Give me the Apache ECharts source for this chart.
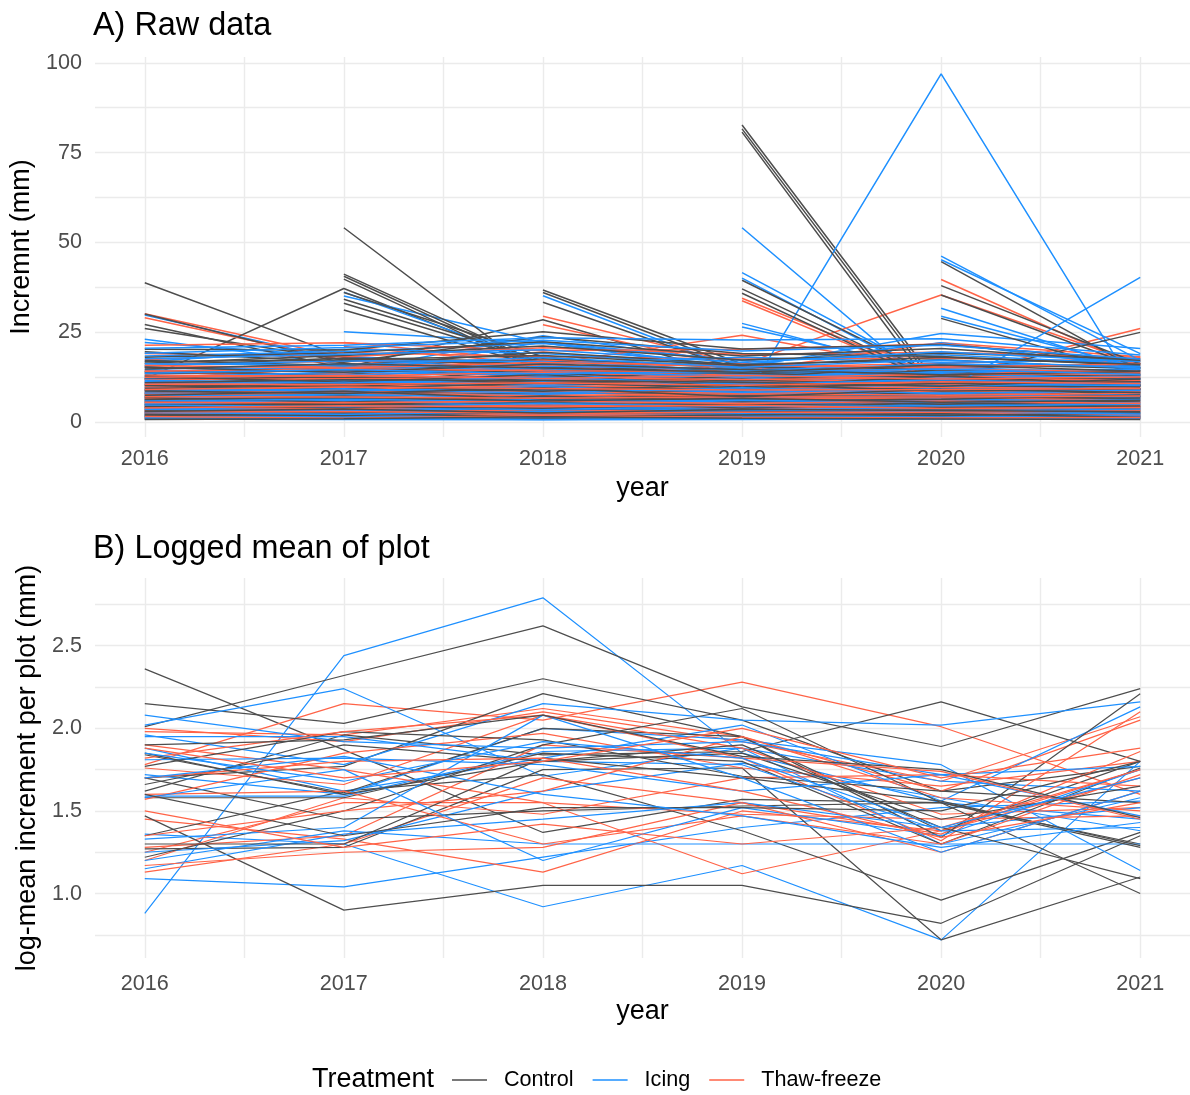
<!DOCTYPE html>
<html>
<head>
<meta charset="utf-8">
<script src="https://cdn.jsdelivr.net/npm/echarts@6/dist/echarts.min.js"></script>
<style>
  html, body { margin: 0; padding: 0; background: #ffffff; }
  #chart { width: 1190px; height: 1095px; }
</style>
</head>
<body>
<div id="chart"></div>
<script>
// Survey years
const years = [2016, 2017, 2018, 2019, 2020, 2021];
const treatments = ['Control', 'Icing', 'Thaw-freeze'];

// Raw yearly increment per tree (mm), one row per tree, columns = years.
// null = tree not measured that year.
const rawControl = [
  [38.8, 18.2, 14.1, 11.3, 9.2, 8.4],
  [12.0, 37.2, 15.3, 10.2, 8.1, 7.3],
  [30.1, 16.4, 12.2, 13.1, 10.4, 9.1],
  [27.2, 15.1, 28.5, 12.4, 10.2, 11.3],
  [26.1, 17.3, 16.2, 13.3, 11.1, 10.2],
  [null, 54.1, 12.3, 10.1, 9.2, 8.3],
  [null, 41.2, 16.1, 12.2, 10.3, 9.2],
  [null, 40.6, 15.2, 14.1, 12.2, 10.1],
  [null, 39.8, 14.3, 11.2, 12.1, 10.4],
  [null, 36.1, 18.2, 13.3, 11.2, 9.3],
  [null, 34.2, 17.1, 15.2, 12.3, 11.1],
  [null, 33.1, 16.3, 12.1, 11.4, 10.2],
  [null, 31.2, 15.1, 14.3, 13.2, 11.3],
  [null, null, 36.8, 16.2, 12.1, 10.4],
  [null, null, 36.1, 15.1, 11.3, 10.1],
  [null, null, 33.4, 14.2, 13.1, 12.2],
  [null, null, null, 82.7, 9.4, 8.2],
  [null, null, null, 81.6, 8.1, 7.1],
  [null, null, null, 80.7, 6.2, 9.3],
  [null, null, null, 39.5, 12.2, 10.1],
  [null, null, null, 37.1, 11.1, 9.2],
  [null, null, null, 35.9, 10.2, 12.1],
  [null, null, null, null, 44.7, 14.3],
  [null, null, null, null, 38.0, 16.2],
  [null, null, null, null, 35.4, 15.1],
  [null, null, null, null, 28.9, 13.2],
  [4.1, 7.1, 8.2, 9.2, 12.1, 25.0],
  [17.2, 15.8, 19.5, 16.1, 17.4, 14.9],
  [15.6, 17.9, 16.8, 14.2, 15.1, 16.3],
  [14.1, 13.2, 17.7, 15.5, 13.8, 12.6],
  [13.4, 14.6, 12.9, 12.1, 16.2, 15.0],
  [12.2, 11.3, 14.4, 13.6, 12.5, 11.8],
  [11.5, 12.8, 11.2, 10.4, 11.0, 13.1],
  [10.6, 9.8, 12.3, 11.7, 10.3, 9.9],
  [9.7, 10.9, 10.1, 9.2, 9.6, 10.8],
  [9.1, 8.4, 9.7, 8.8, 11.4, 8.6],
  [8.3, 9.2, 8.9, 7.6, 8.1, 9.4],
  [7.8, 7.1, 8.2, 8.3, 7.4, 7.2],
  [7.2, 7.9, 7.5, 6.9, 6.8, 8.1],
  [6.6, 6.3, 6.9, 6.2, 7.7, 6.4],
  [6.1, 5.8, 6.4, 5.6, 5.9, 6.9],
  [5.5, 6.2, 5.7, 5.1, 5.3, 5.6],
  [5.0, 4.9, 5.3, 4.7, 6.1, 4.8],
  [4.6, 5.4, 4.6, 4.3, 4.4, 5.2],
  [4.1, 3.9, 4.2, 3.8, 4.8, 4.1],
  [3.7, 4.3, 3.7, 3.4, 3.6, 3.5],
  [3.2, 3.1, 3.3, 2.9, 3.9, 3.2],
  [2.8, 3.5, 2.8, 2.6, 2.8, 2.7],
  [2.4, 2.3, 2.5, 2.2, 3.1, 2.3],
  [2.0, 2.7, 2.1, 1.9, 2.2, 1.9],
  [1.6, 1.7, 1.8, 1.5, 1.7, 1.6],
  [1.3, 1.4, 1.2, 1.2, 1.4, 1.2],
  [1.0, 1.1, 0.9, 0.9, 1.1, 1.0],
  [16.4, 18.6, 21.2, 17.3, 19.2, 17.6],
  [18.1, 19.3, 22.4, 18.4, 20.5, 16.9],
  [19.6, 16.7, 23.8, 19.1, 18.3, 15.8],
  [20.3, 20.1, 25.2, 20.4, 21.6, 17.1],
  [3.4, 2.9, 4.1, 3.2, 2.7, 3.8],
  [5.8, 6.6, 5.2, 6.4, 5.0, 5.9],
  [8.9, 7.6, 9.3, 8.1, 9.9, 7.7],
  [11.9, 12.6, 10.7, 12.9, 11.7, 12.4],
  [13.9, 15.1, 13.8, 11.4, 14.6, 13.6],
  [2.2, 1.9, 2.9, 2.4, 1.9, 2.6],
  [4.3, 4.7, 3.9, 5.2, 4.2, 4.5],
  [6.9, 5.6, 7.3, 5.9, 6.4, 7.6],
  [9.4, 10.1, 8.6, 10.6, 8.7, 9.1],
  [12.8, 11.1, 13.3, 9.8, 12.9, 10.6],
  [1.8, 2.4, 1.6, 2.0, 2.4, 1.4],
  [4.9, 4.1, 5.6, 4.0, 5.4, 4.3],
  [7.5, 8.6, 6.5, 7.4, 7.1, 6.7],
  [10.2, 9.4, 10.9, 9.6, 10.8, 11.3],
  [15.3, 13.9, 16.2, 14.7, 13.2, 14.1],
  [0.8, 1.0, 1.5, 1.1, 0.9, 0.8],
  [3.0, 3.7, 2.6, 3.6, 3.3, 2.9],
  [6.3, 7.0, 5.9, 6.7, 5.6, 6.1],
  [8.7, 8.0, 9.5, 7.1, 9.2, 8.3],
  [11.0, 11.8, 11.6, 11.1, 10.0, 12.0],
  [16.8, 17.4, 18.6, 15.8, 18.1, 16.1],
  [14.8, 16.3, 15.1, 13.9, 15.9, 14.2]
];

const rawIcing = [
  [29.8, 17.2, 15.1, 13.2, 11.1, 10.3],
  [23.1, 16.1, 14.2, 12.1, 13.2, 11.1],
  [22.2, 18.3, 16.1, 14.2, 12.3, 13.1],
  [null, 36.2, 16.3, 12.1, 11.2, 10.1],
  [null, 35.1, 22.2, 14.3, 12.1, 11.3],
  [null, 25.2, 22.1, 15.2, 13.1, 12.2],
  [null, null, 35.2, 14.1, 14.2, 13.1],
  [11.1, 14.2, 24.1, 16.2, 12.1, 11.2],
  [10.2, 13.1, 22.3, 17.1, 13.2, 12.1],
  [null, null, null, 54.1, 7.2, 9.1],
  [null, null, null, 41.6, 12.1, 10.2],
  [null, null, null, 40.1, 11.2, 9.3],
  [null, null, null, 27.5, 13.1, 11.2],
  [null, null, null, 26.5, 14.2, 12.1],
  [5.1, 7.2, 9.3, 5.3, 96.9, 7.0],
  [null, null, null, null, 46.2, 17.2],
  [null, null, null, null, 45.2, 19.1],
  [null, null, null, null, 31.7, 14.2],
  [null, null, null, null, 29.5, 15.1],
  [8.1, 10.2, 13.1, 15.2, 24.7, 20.5],
  [6.3, 9.2, 11.3, 14.1, 8.2, 40.3],
  [18.4, 19.7, 21.9, 17.2, 18.8, 16.2],
  [16.9, 20.3, 19.1, 15.9, 22.1, 15.4],
  [15.2, 14.4, 16.3, 18.1, 16.7, 17.3],
  [14.7, 16.2, 14.9, 13.4, 14.2, 14.6],
  [13.1, 12.7, 15.6, 14.8, 13.5, 12.1],
  [12.6, 13.9, 13.1, 11.9, 15.3, 13.7],
  [11.3, 10.6, 12.2, 12.7, 11.1, 10.9],
  [10.4, 11.8, 10.8, 10.1, 12.4, 11.6],
  [9.8, 9.1, 11.3, 9.4, 9.8, 9.3],
  [8.9, 9.9, 9.2, 8.6, 10.6, 10.2],
  [8.1, 8.2, 8.7, 7.9, 8.5, 8.4],
  [7.4, 7.6, 7.8, 8.9, 7.2, 7.3],
  [6.8, 6.7, 7.1, 6.5, 7.9, 6.7],
  [6.3, 7.2, 6.2, 5.9, 6.4, 6.1],
  [5.7, 5.4, 5.9, 5.3, 5.6, 5.8],
  [5.2, 5.9, 4.9, 4.6, 5.1, 4.9],
  [4.4, 4.6, 4.4, 4.1, 4.7, 4.3],
  [3.9, 3.7, 3.9, 3.6, 3.8, 3.9],
  [3.4, 3.2, 3.5, 3.1, 3.3, 3.4],
  [2.9, 2.8, 2.9, 2.7, 2.6, 2.8],
  [2.5, 2.4, 2.3, 2.4, 2.2, 2.5],
  [2.1, 1.9, 1.9, 1.8, 1.8, 2.0],
  [1.7, 1.5, 1.4, 1.4, 1.5, 1.6],
  [1.4, 1.2, 0.8, 1.1, 1.2, 1.3],
  [0.9, 0.8, 0.7, 0.8, 0.9, 1.1],
  [20.6, 21.4, 23.5, 22.9, 23.2, 18.7],
  [1.9, 2.3, 1.6, 2.1, 2.0, 1.7],
  [3.6, 3.1, 4.0, 3.4, 3.0, 3.7],
  [5.5, 6.1, 5.4, 5.8, 6.0, 5.3],
  [7.0, 7.8, 6.6, 7.2, 6.9, 7.7],
  [9.2, 8.6, 9.9, 8.3, 9.3, 8.8],
  [10.9, 11.4, 10.3, 11.2, 10.1, 11.0],
  [12.4, 13.3, 12.0, 13.1, 12.2, 12.8],
  [14.1, 15.4, 14.3, 12.6, 13.9, 14.9],
  [15.8, 17.1, 16.9, 14.4, 16.2, 15.6],
  [17.7, 18.9, 20.2, 16.6, 19.6, 16.8],
  [2.7, 2.2, 3.0, 2.5, 2.9, 2.3],
  [4.8, 4.3, 5.2, 4.4, 4.6, 5.0],
  [6.0, 6.4, 5.7, 6.2, 5.5, 6.3],
  [8.5, 9.3, 8.1, 9.6, 8.0, 9.0],
  [11.7, 10.9, 12.6, 10.6, 11.8, 10.5],
  [13.6, 14.7, 13.5, 14.1, 14.8, 13.3],
  [16.3, 15.9, 18.0, 15.3, 17.3, 15.1],
  [19.2, 20.8, 22.8, 19.8, 21.4, 17.6]
];

const rawThaw = [
  [30.2, 18.1, 15.2, 13.1, 11.2, 10.1],
  [29.1, 17.2, 14.1, 12.2, 10.1, 11.2],
  [null, 22.2, 17.1, 14.2, 12.1, 10.3],
  [null, 21.1, 16.2, 13.1, 11.3, 12.1],
  [null, null, 29.5, 16.1, 13.2, 11.1],
  [null, null, 27.1, 15.2, 12.1, 10.2],
  [12.1, 15.2, 16.1, 24.2, 14.1, 13.2],
  [null, null, null, 34.5, 12.2, 11.1],
  [null, null, null, 33.8, 11.1, 10.2],
  [null, null, null, null, 39.7, 15.1],
  [8.1, 11.2, 12.1, 16.1, 35.4, 16.2],
  [7.2, 10.1, 11.2, 13.1, 12.2, 26.1],
  [10.2, 12.3, 13.1, 14.2, 22.1, 18.2],
  [19.1, 18.2, 20.7, 18.9, 19.5, 18.1],
  [17.4, 19.4, 18.3, 17.6, 17.9, 16.6],
  [16.2, 16.9, 17.4, 15.2, 16.4, 17.8],
  [15.3, 15.6, 15.8, 14.6, 15.6, 15.7],
  [14.5, 14.1, 14.7, 16.4, 14.3, 14.4],
  [13.7, 13.5, 13.6, 13.3, 13.4, 13.5],
  [12.9, 12.4, 12.8, 12.4, 12.7, 12.9],
  [12.1, 11.6, 11.9, 11.5, 11.6, 12.2],
  [11.2, 10.9, 11.4, 10.8, 10.9, 11.3],
  [10.3, 10.2, 10.6, 10.0, 10.2, 10.5],
  [9.5, 9.6, 9.8, 9.3, 9.4, 9.7],
  [8.8, 8.9, 9.0, 8.7, 8.8, 8.9],
  [8.0, 8.3, 8.1, 7.8, 8.2, 8.2],
  [7.5, 7.4, 7.6, 7.3, 7.3, 7.6],
  [6.9, 6.9, 6.8, 6.7, 6.6, 7.0],
  [6.2, 6.4, 6.3, 6.1, 6.2, 6.5],
  [5.8, 5.7, 5.6, 5.5, 5.7, 5.9],
  [5.1, 5.2, 5.1, 4.9, 5.0, 5.4],
  [4.7, 4.4, 4.7, 4.4, 4.6, 4.8],
  [4.2, 4.0, 4.0, 4.0, 4.1, 4.4],
  [3.6, 3.6, 3.6, 3.5, 3.5, 3.8],
  [3.1, 3.3, 3.1, 3.0, 3.0, 3.3],
  [2.7, 2.6, 2.7, 2.5, 2.5, 2.9],
  [2.2, 2.2, 2.2, 2.1, 2.1, 2.4],
  [1.8, 1.8, 1.7, 1.6, 1.7, 1.9],
  [1.4, 1.3, 1.3, 1.3, 1.3, 1.5],
  [1.0, 1.0, 1.1, 0.9, 1.0, 1.1],
  [21.4, 22.1, 19.9, 20.3, 21.8, 17.2],
  [1.2, 1.6, 1.5, 1.1, 1.4, 1.7],
  [2.5, 2.0, 2.4, 2.3, 2.7, 2.1],
  [3.3, 3.9, 3.0, 3.7, 3.2, 3.5],
  [4.5, 4.2, 4.9, 4.2, 4.4, 4.6],
  [5.4, 6.0, 5.3, 5.8, 5.3, 5.6],
  [6.6, 6.2, 7.1, 6.4, 6.9, 6.2],
  [7.7, 8.1, 7.4, 7.9, 7.5, 8.0],
  [8.5, 8.6, 8.4, 8.2, 8.6, 8.6],
  [9.9, 9.2, 10.2, 9.5, 9.8, 9.1],
  [10.8, 11.3, 10.4, 11.2, 10.6, 11.4],
  [11.8, 12.1, 12.4, 11.9, 12.3, 11.6],
  [13.1, 12.8, 13.9, 12.7, 13.2, 13.8],
  [14.2, 14.9, 14.3, 14.1, 14.8, 14.0],
  [15.8, 15.1, 16.6, 15.7, 15.3, 16.2],
  [1.6, 1.1, 1.9, 1.4, 1.2, 1.3],
  [2.9, 3.0, 2.5, 2.8, 2.8, 3.1],
  [4.0, 4.6, 4.3, 4.7, 3.8, 4.1],
  [5.6, 5.4, 5.9, 5.2, 5.9, 5.2],
  [7.1, 7.0, 6.7, 7.1, 7.0, 7.3],
  [9.1, 9.8, 9.4, 9.0, 9.1, 9.4],
  [10.6, 10.5, 11.0, 10.3, 11.3, 10.8],
  [12.5, 13.1, 12.2, 13.0, 12.0, 12.6]
];

// Log of the plot-mean increment, one row per plot
const logControl = [
  [2.36, 1.87, 1.37, 1.57, 1.55, 1.30],
  [2.01, 2.32, 2.62, 2.13, 1.89, 2.24],
  [2.15, 2.03, 2.30, 2.05, 1.62, 1.77],
  [1.70, 1.77, 2.21, 1.95, 1.38, 1.80],
  [1.62, 1.96, 1.84, 1.86, 2.16, 1.80],
  [1.47, 0.90, 1.05, 1.05, 0.82, 1.35],
  [1.35, 1.62, 1.72, 1.38, 0.96, 1.37],
  [1.27, 1.28, 1.75, 1.76, 0.72, 1.10],
  [1.84, 1.61, 2.00, 1.95, 1.34, 2.21],
  [1.70, 1.45, 1.50, 1.53, 1.55, 1.00],
  [1.58, 1.58, 1.85, 1.80, 1.30, 1.76],
  [1.22, 1.50, 1.90, 2.12, 1.55, 1.28],
  [1.30, 1.30, 1.82, 1.70, 1.56, 1.29],
  [1.66, 1.90, 1.80, 1.85, 1.45, 1.65],
  [1.77, 1.98, 1.93, 1.71, 1.62, 1.55],
  [1.60, 1.35, 1.52, 1.52, 1.50, 1.80],
  [1.90, 1.93, 2.08, 1.83, 1.75, 1.46],
  [1.85, 1.60, 1.80, 1.90, 1.40, 1.09]
];

const logIcing = [
  [0.88, 2.44, 2.79, 1.85, 1.55, 1.45],
  [1.09, 1.04, 1.22, 1.40, 1.52, 1.56],
  [1.36, 1.30, 0.92, 1.17, 0.72, 1.80],
  [2.02, 2.24, 1.71, 1.88, 1.68, 1.62],
  [1.96, 1.78, 2.15, 2.05, 2.02, 2.16],
  [1.88, 1.62, 1.82, 2.02, 1.56, 2.13],
  [1.72, 1.60, 2.00, 1.93, 1.78, 1.14],
  [1.59, 1.59, 1.86, 1.88, 1.30, 1.58],
  [1.25, 1.32, 1.62, 1.79, 1.58, 1.38],
  [1.20, 1.38, 1.30, 1.30, 1.30, 1.30],
  [1.15, 1.36, 1.45, 1.55, 1.40, 1.52],
  [1.95, 1.95, 1.80, 1.78, 1.38, 1.40],
  [1.81, 1.82, 1.78, 1.62, 1.72, 1.77],
  [1.58, 1.75, 1.20, 1.52, 1.35, 1.75],
  [1.33, 1.40, 2.08, 1.70, 1.25, 1.62],
  [2.08, 1.92, 1.88, 1.92, 1.72, 1.47],
  [1.70, 1.83, 1.60, 1.47, 1.28, 1.43],
  [1.85, 1.68, 1.92, 1.82, 1.40, 1.70]
];

const logThaw = [
  [1.78, 2.15, 2.05, 2.28, 2.01, 1.60],
  [2.00, 1.92, 2.10, 1.92, 1.68, 2.07],
  [1.98, 1.96, 2.12, 1.95, 1.62, 2.05],
  [1.45, 1.33, 1.13, 1.50, 1.38, 1.75],
  [1.25, 1.55, 1.55, 1.12, 1.38, 1.70],
  [1.28, 1.35, 1.90, 1.82, 1.32, 2.10],
  [1.13, 1.30, 1.70, 1.55, 1.36, 1.86],
  [1.20, 1.58, 1.48, 1.70, 1.72, 1.65],
  [1.76, 1.66, 2.08, 1.88, 1.48, 1.52],
  [1.90, 1.75, 1.55, 1.48, 1.45, 1.47],
  [1.57, 1.85, 1.97, 1.76, 1.65, 1.80],
  [1.60, 1.62, 1.30, 1.47, 1.30, 1.72],
  [1.35, 1.50, 1.62, 1.95, 1.58, 1.50],
  [1.17, 1.25, 1.28, 1.55, 1.25, 1.62],
  [1.70, 1.80, 1.82, 1.62, 1.34, 1.55],
  [1.82, 1.98, 2.08, 1.82, 1.74, 1.45],
  [1.50, 1.28, 1.42, 1.30, 1.40, 1.75],
  [1.88, 1.70, 1.80, 2.00, 1.70, 1.88]
];

const colors = { 'Control': '#4D4D4D', 'Icing': '#1E90FF', 'Thaw-freeze': '#FF6347' };
const FONT = '"Liberation Sans", Arial, sans-serif';
const GRID_COLOR = '#EBEBEB';

function lineSeries(name, row, idx, width) {
  return {
    type: 'line',
    name: name,
    xAxisIndex: idx,
    yAxisIndex: idx,
    data: years.map((y, j) => [y, row[j] == null ? '-' : row[j]]),
    connectNulls: false,
    symbol: 'none',
    showSymbol: false,
    color: colors[name],
    lineStyle: { width: width, color: colors[name] },
    silent: true,
    animation: false,
    emphasis: { disabled: true }
  };
}

// spread each treatment's rows evenly through the drawing order,
// so no colour sits entirely on top of the others
function panelSeries(groups, idx, width) {
  const items = [];
  groups.forEach(([name, rows], g) => {
    rows.forEach((row, i) => items.push({ name, row, key: (i + 0.5) / rows.length + g * 1e-4 }));
  });
  items.sort((a, b) => a.key - b.key);
  return items.map(it => lineSeries(it.name, it.row, idx, width));
}

function xAxisFor(idx, labelMargin, nameGap) {
  return {
    type: 'value',
    gridIndex: idx,
    min: 2015.75,
    max: 2021.25,
    splitNumber: 11,
    minInterval: 0.5,
    maxInterval: 0.5,
    name: 'year',
    nameLocation: 'middle',
    nameGap: nameGap,
    nameTextStyle: { fontFamily: FONT, fontSize: 27, color: '#000000' },
    axisLine: { show: false },
    axisTick: { show: false },
    axisLabel: {
      margin: labelMargin,
      fontFamily: FONT,
      fontSize: 21.6,
      color: '#4D4D4D',
      showMinLabel: false,
      showMaxLabel: false,
      formatter: v => (Math.abs(v - Math.round(v)) < 1e-6 ? String(Math.round(v)) : '')
    },
    splitLine: { show: true, showMinLine: false, showMaxLine: false, lineStyle: { color: GRID_COLOR, width: 1.4 } }
  };
}

function yAxisFor(idx, name, min, max, step, labelStep, digits) {
  return {
    type: 'value',
    gridIndex: idx,
    min: min,
    max: max,
    minInterval: step,
    maxInterval: step,
    splitNumber: Math.round((max - min) / step),
    name: name,
    nameLocation: 'middle',
    nameGap: 53,
    nameTextStyle: { fontFamily: FONT, fontSize: 27, color: '#000000' },
    axisLine: { show: false },
    axisTick: { show: false },
    axisLabel: {
      margin: 13,
      fontFamily: FONT,
      fontSize: 21.6,
      color: '#4D4D4D',
      showMinLabel: false,
      showMaxLabel: false,
      formatter: v => {
        const k = v / labelStep;
        return Math.abs(k - Math.round(k)) < 1e-6 ? v.toFixed(digits) : '';
      }
    },
    splitLine: { show: true, showMinLine: false, showMaxLine: false, lineStyle: { color: GRID_COLOR, width: 1.4 } }
  };
}

const chart = echarts.init(document.getElementById('chart'), null, { renderer: 'canvas' });

const option = {
  animation: false,
  backgroundColor: '#ffffff',
  textStyle: { fontFamily: FONT },
  title: [
    { text: 'A) Raw data', left: 93, top: 10, padding: 0,
      textStyle: { fontFamily: FONT, fontSize: 32.4, fontWeight: 'normal', color: '#000000' } },
    { text: 'B) Logged mean of plot', left: 93, top: 533, padding: 0,
      textStyle: { fontFamily: FONT, fontSize: 32.4, fontWeight: 'normal', color: '#000000' } },
    { text: 'Treatment', left: 312, top: 1066.5, padding: 0,
      textStyle: { fontFamily: FONT, fontSize: 27, fontWeight: 'normal', color: '#000000' } }
  ],
  legend: {
    data: treatments,
    left: 452,
    top: 1069,
    padding: 0,
    orient: 'horizontal',
    icon: 'rect',
    itemWidth: 35,
    itemHeight: 1.5,
    itemGap: 19,
    selectedMode: false,
    textStyle: { fontFamily: FONT, fontSize: 21.6, color: '#000000', padding: [0, 0, 0, 12] }
  },
  grid: [
    { left: 95, top: 57, width: 1097, height: 380 },
    { left: 95, top: 578, width: 1097, height: 380 }
  ],
  xAxis: [xAxisFor(0, 11, 38), xAxisFor(1, 15, 40)],
  yAxis: [
    yAxisFor(0, 'Incremnt (mm)', -4.1, 101.6, 12.5, 25, 0),
    yAxisFor(1, 'log-mean increment per plot (mm)', 0.61, 2.91, 0.25, 0.5, 1)
  ],
  series: [
    ...panelSeries([['Control', rawControl], ['Icing', rawIcing], ['Thaw-freeze', rawThaw]], 0, 1.5),
    ...panelSeries([['Control', logControl], ['Icing', logIcing], ['Thaw-freeze', logThaw]], 1, 1.2)
  ]
};

chart.setOption(option);
</script>
</body>
</html>
